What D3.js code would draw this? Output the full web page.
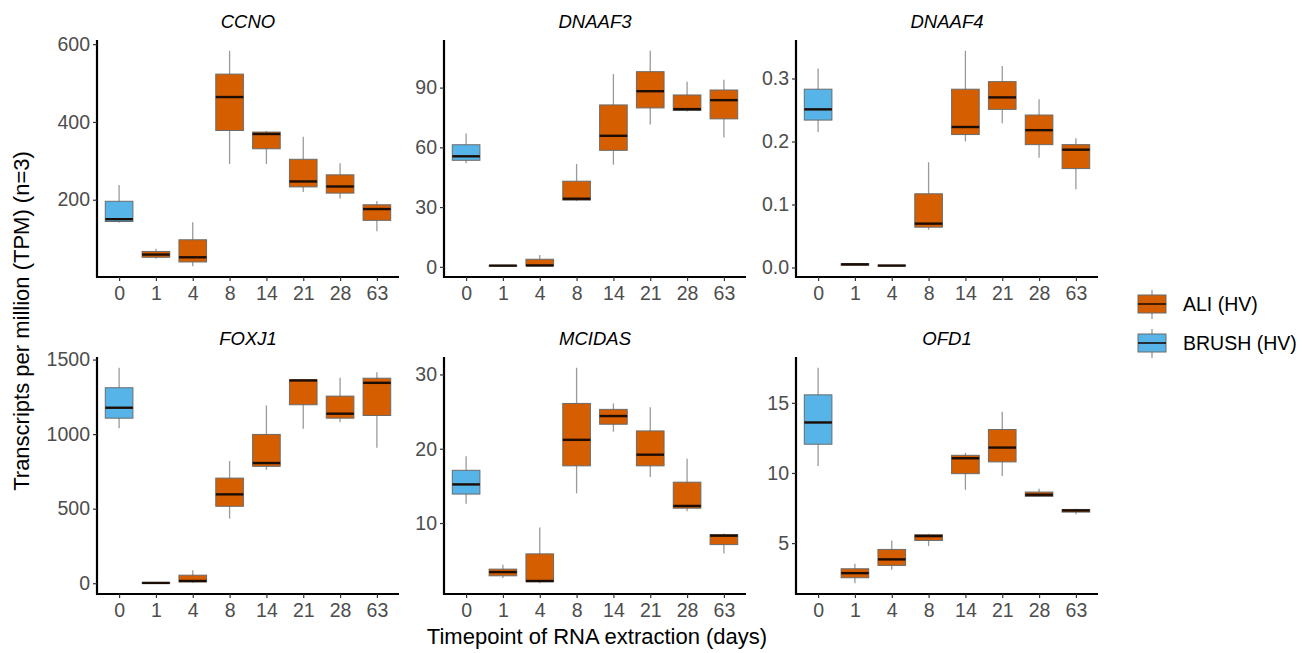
<!DOCTYPE html>
<html>
<head>
<meta charset="utf-8">
<script src="https://d3js.org/d3.v7.min.js"></script>
<style>
	body { margin: 0; background: #fff; }
	svg { font-family: "Liberation Sans", Arial, sans-serif; }
</style>
</head>
<body>
<div id="chart"></div>
<script>
// timepoints (days) and which sample group each one belongs to
var days = ['0', '1', '4', '8', '14', '21', '28', '63'];
var dayGroup = ['BRUSH (HV)', 'ALI (HV)', 'ALI (HV)', 'ALI (HV)', 'ALI (HV)', 'ALI (HV)', 'ALI (HV)', 'ALI (HV)'];
var genes = ['CCNO', 'DNAAF3', 'DNAAF4', 'FOXJ1', 'MCIDAS', 'OFD1'];

// [lower whisker, q1, median, q3, upper whisker] per timepoint
var ccno = [[141, 144, 150, 196, 238], [48, 52, 59, 67, 74], [29, 40, 52, 97, 142], [292, 378, 464, 523, 583],
	[292, 331, 369, 374, 377], [220, 233, 247, 304, 362], [203, 217, 234, 264, 294], [119, 147, 176, 187, 197]];
var dnaaf3 = [[52, 53.5, 55.5, 61.3, 67], [0.3, 0.5, 0.6, 0.7, 0.9], [0.4, 0.5, 0.7, 3.8, 6], [33, 33.5, 34.2, 43, 51.7],
	[51.3, 58.5, 65.8, 81.3, 96.8], [71.5, 79.8, 88.2, 98, 108.5], [78, 78.5, 79.2, 86.3, 93], [65, 74.3, 83.7, 88.8, 94]];
var dnaaf4 = [[0.215, 0.234, 0.251, 0.283, 0.316], [0.003, 0.0035, 0.005, 0.006, 0.007], [0.002, 0.0025, 0.003, 0.0035, 0.004],
	[0.060, 0.064, 0.0696, 0.117, 0.167], [0.2, 0.211, 0.223, 0.283, 0.344], [0.229, 0.251, 0.270, 0.295, 0.32],
	[0.174, 0.195, 0.218, 0.242, 0.267], [0.124, 0.157, 0.187, 0.195, 0.205]];
var foxj1 = [[1040, 1107, 1177, 1311, 1445], [0, 1, 2, 3, 4], [2, 9, 15, 54, 87], [433, 516, 596, 705, 819],
	[761, 784, 806, 998, 1192], [1036, 1197, 1360, 1364, 1364], [1080, 1107, 1137, 1255, 1378], [909, 1125, 1344, 1375, 1415]];
var mcidas = [[12.6, 13.9, 15.2, 17.1, 19.0], [2.6, 2.9, 3.4, 3.8, 4.4], [1.9, 2.1, 2.2, 5.85, 9.4], [14.0, 17.7, 21.2, 26.1, 30.9],
	[22.3, 23.3, 24.4, 25.3, 26.1], [16.2, 17.7, 19.2, 22.4, 25.6], [11.6, 12.0, 12.3, 15.5, 18.65], [5.9, 7.1, 8.3, 8.45, 8.6]];
var ofd1 = [[10.5, 12.05, 13.6, 15.57, 17.5], [2.14, 2.53, 2.86, 3.17, 3.53], [3.1, 3.41, 3.84, 4.55, 5.19], [4.79, 5.19, 5.5, 5.6, 5.67],
	[8.8, 9.95, 11.05, 11.26, 11.43], [9.79, 10.79, 11.81, 13.1, 14.36], [8.29, 8.33, 8.45, 8.64, 8.88], [7.05, 7.21, 7.33, 7.4, 7.45]];

var geneStats = [ccno, dnaaf3, dnaaf4, foxj1, mcidas, ofd1];
var geneTicks = [[200, 400, 600], [0, 30, 60, 90], [0, 0.1, 0.2, 0.3], [0, 500, 1000, 1500], [10, 20, 30], [5, 10, 15]];

var legendLabels = ['ALI (HV)', 'BRUSH (HV)'];
var legendColors = ['#D55E00', '#56B4E9'];

var width = 1307;
var height = 653;
var panelWidth = 302;
var panelLefts = [97, 444, 796];
var rowBottoms = [277, 594];
var panelHeight = 237;

var color = d3.scaleOrdinal().domain(legendLabels).range(legendColors);

var svg = d3.select('#chart')
	.append('svg')
	.attr('width', width)
	.attr('height', height);

genes.forEach(function(gene, gi){
	var stats = geneStats[gi];
	var left = panelLefts[gi % 3];
	var bottom = rowBottoms[Math.floor(gi / 3)];

	// ggplot style 5% expansion around the whisker range
	var lo = d3.min(stats, function(d){ return d[0]; });
	var hi = d3.max(stats, function(d){ return d[4]; });
	var pad = (hi - lo) * 0.05;

	var x = d3.scalePoint()
		.domain(days)
		.range([0, panelWidth])
		.padding(0.6);

	var y = d3.scaleLinear()
		.domain([lo - pad, hi + pad])
		.range([panelHeight, 0]);

	var boxW = x.step() * 0.75;

	var g = svg.append('g')
		.attr('transform', 'translate(' + left + ',' + (bottom - panelHeight) + ')');

	var fmt = gene === 'DNAAF4' ? d3.format('.1f') : d3.format('d');

	var yAxis = g.append('g')
		.call(d3.axisLeft(y).tickValues(geneTicks[gi]).tickSize(4).tickPadding(3).tickFormat(fmt));
	var xAxis = g.append('g')
		.attr('transform', 'translate(0,' + panelHeight + ')')
		.call(d3.axisBottom(x).tickSize(4).tickPadding(5));

	[yAxis, xAxis].forEach(function(ax){
		ax.select('.domain').attr('stroke', '#000').attr('stroke-width', 2.2);
		ax.selectAll('.tick line').attr('stroke', '#333').attr('stroke-width', 1.2);
		ax.selectAll('.tick text').attr('fill', '#4d4d4d').style('font-size', '19.5px');
	});
	yAxis.select('.domain').attr('d', 'M0,' + (panelHeight + 1) + 'V0');
	xAxis.select('.domain').attr('d', 'M-1,0H' + panelWidth);

	g.append('text')
		.attr('x', panelWidth / 2)
		.attr('y', -12)
		.attr('text-anchor', 'middle')
		.style('font-size', '18.5px')
		.style('font-style', 'italic')
		.text(gene);

	var boxes = g.selectAll('.box')
		.data(stats)
		.enter()
		.append('g')
		.attr('class', 'box')
		.attr('transform', function(d, i){
			return 'translate(' + x(days[i]) + ',0)';
		});

	boxes.append('line')
		.attr('y1', function(d){ return y(d[0]); })
		.attr('y2', function(d){ return y(d[4]); })
		.attr('stroke', '#9a9a9a')
		.attr('stroke-width', 1.3);

	boxes.append('rect')
		.attr('x', -boxW / 2)
		.attr('width', boxW)
		.attr('y', function(d){ return y(d[3]); })
		.attr('height', function(d){ return Math.max(0.5, y(d[1]) - y(d[3])); })
		.attr('fill', function(d, i){ return color(dayGroup[i]); })
		.attr('stroke', '#6b6b6b')
		.attr('stroke-width', 1);

	boxes.append('line')
		.attr('x1', -boxW / 2)
		.attr('x2', boxW / 2)
		.attr('y1', function(d){ return y(d[2]); })
		.attr('y2', function(d){ return y(d[2]); })
		.attr('stroke', '#1c0d04')
		.attr('stroke-width', 2.4);
});

// axis titles
svg.append('text')
	.attr('x', 597)
	.attr('y', 644)
	.attr('text-anchor', 'middle')
	.style('font-size', '22px')
	.text('Timepoint of RNA extraction (days)');

svg.append('text')
	.attr('transform', 'translate(29,321) rotate(-90)')
	.attr('text-anchor', 'middle')
	.style('font-size', '22px')
	.text('Transcripts per million (TPM) (n=3)');

// legend
var legend = svg.selectAll('.legend')
	.data(legendLabels)
	.enter()
	.append('g')
	.attr('class', 'legend')
	.attr('transform', function(d, i){
		return 'translate(1138,' + (304 + i * 39) + ')';
	});

legend.append('line')
	.attr('x1', 14).attr('x2', 14)
	.attr('y1', -14).attr('y2', 15)
	.attr('stroke', '#9a9a9a')
	.attr('stroke-width', 1.3);

legend.append('rect')
	.attr('x', 0)
	.attr('y', -9)
	.attr('width', 28)
	.attr('height', 18)
	.attr('fill', color)
	.attr('stroke', '#6b6b6b');

legend.append('line')
	.attr('x1', 0).attr('x2', 28)
	.attr('y1', 0).attr('y2', 0)
	.attr('stroke', '#1c0d04')
	.attr('stroke-width', 1.6);

legend.append('text')
	.attr('x', 45)
	.attr('y', 7)
	.style('font-size', '19.5px')
	.text(function(d){ return d; });
</script>
</body>
</html>
